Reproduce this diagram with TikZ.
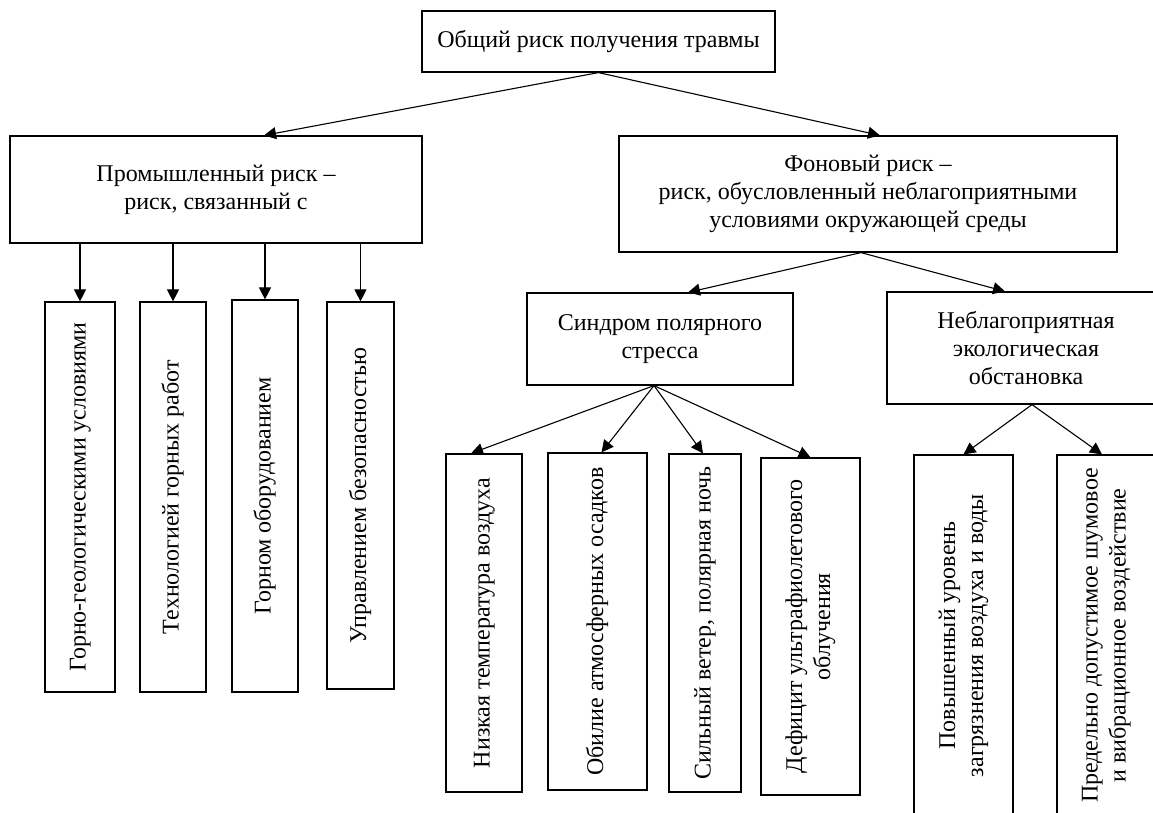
\documentclass[tikz,border=0pt]{standalone}
\usepackage{fontspec}
\setmainfont{Liberation Serif}
\usepackage{graphicx}
\usetikzlibrary{arrows.meta,calc}

\newcommand{\vlabel}[1]{\rotatebox{90}{\begin{tabular}{@{}c@{}}#1\end{tabular}}}

\begin{document}
\begin{tikzpicture}[x=1pt, y=-1pt,
    font=\rmfamily\fontsize{24}{28}\selectfont,
    box/.style={draw, line width=1.2pt, align=center, inner sep=0pt},
    arr/.style={-{Triangle[length=12pt,width=12pt]}, line width=1.1pt}]
    \clip (0,0) rectangle (1153,812);

    % Top level
    \node[box, minimum width=353pt, minimum height=61pt] (total) at (598.5,41.5) {Общий риск получения травмы};

    % Industrial and background risk
    \node[box, minimum width=412pt, minimum height=107pt] (prom) at (216,189.5) {Промышленный риск –\\риск, связанный с};
    \node[box, minimum width=498pt, minimum height=116pt] (fon) at (868,194) {Фоновый риск –\\риск, обусловленный неблагоприятными\\условиями окружающей среды};

    % Industrial risk factors
    \node[box, minimum width=70pt, minimum height=390pt] (geo) at (80,497) {\vlabel{Горно-геологическими условиями}};
    \node[box, minimum width=66pt, minimum height=390pt] (tech) at (173,497) {\vlabel{Технологией горных работ}};
    \node[box, minimum width=66pt, minimum height=392pt] (equip) at (265,496) {\vlabel{Горном оборудованием}};
    \node[box, minimum width=67pt, minimum height=387pt] (safety) at (360.5,495.5) {\vlabel{Управлением безопасностью}};

    % Background risk groups
    \node[box, minimum width=266pt, minimum height=92pt] (polar) at (660,339) {Синдром полярного\\стресса};
    \node[box, minimum width=278pt, minimum height=112pt] (ecol) at (1026,348) {Неблагоприятная\\экологическая\\обстановка};

    % Polar stress factors
    \node[box, minimum width=76pt, minimum height=338pt] (cold) at (484,623) {\vlabel{Низкая температура воздуха}};
    \node[box, minimum width=99pt, minimum height=337pt] (rain) at (597.5,621.5) {\vlabel{Обилие атмосферных осадков}};
    \node[box, minimum width=72pt, minimum height=338pt] (wind) at (705,623) {\vlabel{Сильный ветер, полярная ночь}};
    \node[box, minimum width=99pt, minimum height=337pt] (uv) at (810.5,626.5) {\vlabel{Дефицит ультрафиолетового\\облучения}};

    % Ecological factors
    \node[box, minimum width=99pt, minimum height=361pt] (dirt) at (963.5,635.5) {\vlabel{Повышенный уровень\\загрязнения воздуха и воды}};
    \node[box, minimum width=98pt, minimum height=361pt] (noise) at (1106,635.5) {\vlabel{Предельно допустимое шумовое\\и вибрационное воздействие}};

    % Connectors
    \draw[arr] (total.south) -- ($(prom.north)+(48,0)$);
    \draw[arr] (total.south) -- ($(fon.north)+(12,0)$);
    \draw[arr] (geo.north |- prom.south) -- (geo.north);
    \draw[arr] (tech.north |- prom.south) -- (tech.north);
    \draw[arr] (equip.north |- prom.south) -- (equip.north);
    \draw[arr] (safety.north |- prom.south) -- (safety.north);
    \draw[arr] ($(fon.south)+(-7,0)$) -- ($(polar.north)+(28,0)$);
    \draw[arr] ($(fon.south)+(-7,0)$) -- ($(ecol.north)+(-21,0)$);
    \draw[arr] ($(polar.south)+(-6,0)$) -- ($(cold.north)+(-13,0)$);
    \draw[arr] ($(polar.south)+(-6,0)$) -- ($(rain.north)+(4,0)$);
    \draw[arr] ($(polar.south)+(-6,0)$) -- ($(wind.north)+(-2,0)$);
    \draw[arr] ($(polar.south)+(-6,0)$) -- (uv.north);
    \draw[arr] ($(ecol.south)+(6,0)$) -- (dirt.north);
    \draw[arr] ($(ecol.south)+(6,0)$) -- ($(noise.north)+(-4,0)$);
\end{tikzpicture}
\end{document}
